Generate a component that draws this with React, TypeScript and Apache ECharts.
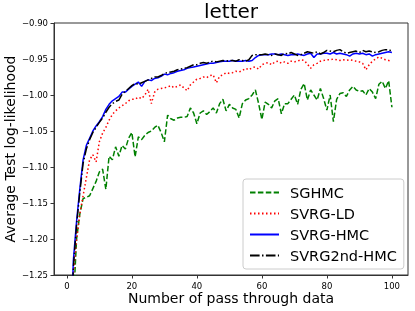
import React, { useEffect, useRef } from "react";
import * as echarts from "echarts";

const passes: number[] = Array.from({ length: 100 }, (_, i) => i + 1);

const sghmc: number[] = [
  -1.40, -1.29, -1.20, -1.165, -1.144, -1.142, -1.140, -1.130, -1.120, -1.107,
  -1.103, -1.131, -1.085, -1.090, -1.072, -1.085, -1.070, -1.075, -1.060, -1.052,
  -1.086, -1.058, -1.062, -1.056, -1.052, -1.050, -1.045, -1.042, -1.052, -1.065,
  -1.028, -1.033, -1.035, -1.032, -1.031, -1.031, -1.030, -1.018, -1.025, -1.040,
  -1.025, -1.022, -1.027, -1.023, -1.018, -1.025, -1.012, -1.006, -1.022, -1.013,
  -1.018, -1.020, -1.032, -1.012, -1.007, -1.005, -1.000, -0.993, -1.012, -1.034,
  -1.010, -1.013, -1.018, -1.008, -1.005, -1.026, -1.012, -1.012, -1.006, -1.000,
  -1.013, -0.992, -0.984, -1.007, -0.993, -1.000, -1.007, -0.991, -1.005, -1.021,
  -1.000, -1.037, -1.006, -0.998, -0.997, -1.002, -0.993, -0.988, -0.993, -0.995,
  -0.994, -1.000, -0.991, -0.996, -1.005, -0.985, -0.981, -0.991, -0.980, -1.017,
];

const svrgLd: number[] = [
  -1.33, -1.25, -1.200, -1.165, -1.140, -1.115, -1.090, -1.083, -1.093, -1.065,
  -1.053, -1.045, -1.035, -1.027, -1.022, -1.018, -1.015, -1.012, -1.008, -1.006,
  -1.006, -1.003, -1.005, -1.000, -0.992, -1.012, -0.996, -0.992, -0.991, -0.990,
  -0.989, -0.987, -0.990, -0.988, -0.986, -0.990, -0.994, -0.986, -0.982, -0.978,
  -0.977, -0.975, -0.976, -0.973, -0.972, -0.983, -0.974, -0.972, -0.969, -0.970,
  -0.969, -0.967, -0.968, -0.966, -0.963, -0.965, -0.962, -0.961, -0.964, -0.958,
  -0.956, -0.955, -0.958, -0.954, -0.953, -0.956, -0.954, -0.956, -0.953, -0.954,
  -0.953, -0.951, -0.952, -0.957, -0.963, -0.958, -0.956, -0.953, -0.952, -0.951,
  -0.951, -0.950, -0.951, -0.952, -0.951, -0.952, -0.951, -0.952, -0.953, -0.954,
  -0.956, -0.965, -0.958, -0.953, -0.950, -0.947, -0.949, -0.951, -0.952, -0.953,
];

const svrgHmc: number[] = [
  -1.36, -1.23, -1.175, -1.130, -1.090, -1.070, -1.060, -1.050, -1.043, -1.037,
  -1.030, -1.020, -1.013, -1.008, -1.005, -1.002, -0.996, -0.996, -0.992, -0.988,
  -0.985, -0.982, -0.988, -0.981, -0.979, -0.980, -0.977, -0.976, -0.974, -0.971,
  -0.972, -0.970, -0.969, -0.967, -0.966, -0.965, -0.963, -0.962, -0.961, -0.960,
  -0.959, -0.958, -0.957, -0.956, -0.956, -0.955, -0.954, -0.953, -0.953, -0.953,
  -0.952, -0.953, -0.953, -0.953, -0.952, -0.953, -0.952, -0.948, -0.945, -0.944,
  -0.944, -0.944, -0.943, -0.943, -0.944, -0.943, -0.944, -0.945, -0.944, -0.944,
  -0.943, -0.944, -0.945, -0.943, -0.942, -0.948, -0.943, -0.943, -0.942, -0.942,
  -0.943, -0.941, -0.943, -0.942, -0.943, -0.944, -0.946, -0.943, -0.942, -0.943,
  -0.942, -0.944, -0.943, -0.946, -0.944, -0.943, -0.942, -0.941, -0.940, -0.941,
];

const svrg2ndHmc: number[] = [
  -1.37, -1.24, -1.180, -1.135, -1.095, -1.075, -1.062, -1.052, -1.045, -1.038,
  -1.032, -1.024, -1.017, -1.012, -1.009, -1.007, -0.999, -0.995, -0.991, -0.987,
  -0.984, -0.985, -0.983, -0.981, -0.979, -0.977, -0.975, -0.975, -0.973, -0.970,
  -0.969, -0.968, -0.967, -0.965, -0.964, -0.963, -0.962, -0.960, -0.958, -0.958,
  -0.956, -0.955, -0.956, -0.954, -0.953, -0.954, -0.953, -0.952, -0.953, -0.952,
  -0.952, -0.953, -0.951, -0.952, -0.953, -0.951, -0.945, -0.944, -0.944, -0.944,
  -0.943, -0.944, -0.945, -0.943, -0.944, -0.945, -0.942, -0.943, -0.941, -0.943,
  -0.945, -0.944, -0.942, -0.940, -0.941, -0.942, -0.940, -0.943, -0.941, -0.938,
  -0.939, -0.940, -0.938, -0.937, -0.940, -0.942, -0.941, -0.940, -0.939, -0.941,
  -0.938, -0.940, -0.939, -0.940, -0.941, -0.940, -0.938, -0.937, -0.937, -0.939,
];

const seriesNames: string[] = ["SGHMC", "SVRG-LD", "SVRG-HMC", "SVRG2nd-HMC"];
const xTicks: number[] = [0, 20, 40, 60, 80, 100];

const FONT = "DejaVu Sans";

export default function App() {
  const ref = useRef<HTMLDivElement>(null);
  useEffect(() => {
    if (!ref.current) return;
    const chart = echarts.init(ref.current, null, { renderer: "svg" });
    const pair = (arr: number[]) => passes.map((p, i) => [p, arr[i]]);
    const styles = [
      { color: "#008000", type: [5.5, 2.4] as any },
      { color: "#ff0000", type: [1.5, 2.5] as any },
      { color: "#0000ff", type: "solid" as any },
      { color: "#000000", type: [9.6, 2.4, 1.5, 2.4] as any },
    ];
    const datas = [sghmc, svrgLd, svrgHmc, svrg2ndHmc];
    chart.setOption({
      animation: false,
      grid: {
        left: 54,
        right: 7,
        top: 23,
        bottom: 36,
        show: true,
        borderColor: "#333",
        borderWidth: 1,
        backgroundColor: "transparent",
      },
      graphic: [
        {
          type: "text",
          x: 231,
          y: 11,
          style: {
            text: "letter",
            fontFamily: FONT,
            fontSize: 20,
            fill: "#000",
            textAlign: "center",
            textVerticalAlign: "middle",
          },
        },
        {
          type: "text",
          x: 231,
          y: 298,
          style: {
            text: "Number of pass through data",
            fontFamily: FONT,
            fontSize: 14,
            fill: "#000",
            textAlign: "center",
            textVerticalAlign: "middle",
          },
        },
        {
          type: "text",
          x: 10,
          y: 149,
          rotation: Math.PI / 2,
          style: {
            text: "Average Test log-likelihood",
            fontFamily: FONT,
            fontSize: 14,
            fill: "#000",
            textAlign: "center",
            textVerticalAlign: "middle",
          },
        },
      ],
      legend: {
        orient: "vertical",
        left: 243,
        top: 179,
        padding: [6, 7, 6, 6],
        itemWidth: 29,
        itemHeight: 10,
        itemGap: 6,
        backgroundColor: "rgba(255,255,255,0.8)",
        borderColor: "#cccccc",
        borderWidth: 1,
        borderRadius: 3,
        data: seriesNames,
        itemStyle: { opacity: 0 },
        textStyle: {
          fontFamily: FONT,
          fontSize: 14.5,
          color: "#000",
          padding: [0, 0, 0, 6],
        },
      },
      xAxis: {
        type: "value",
        min: -3.95,
        max: 104.95,
        splitLine: { show: false },
        axisLine: { show: true, onZero: false, lineStyle: { color: "#333", width: 1 } },
        axisTick: {
          show: true,
          length: 3.5,
          customValues: xTicks,
          lineStyle: { color: "#333" },
        },
        axisLabel: {
          customValues: xTicks,
          margin: 6,
          fontFamily: FONT,
          fontSize: 8.5,
          color: "#000",
          formatter: (v: number) => String(v),
        },
      },
      yAxis: {
        type: "value",
        min: -1.25,
        max: -0.9,
        interval: 0.05,
        splitLine: { show: false },
        axisLine: { show: true, onZero: false, lineStyle: { color: "#333", width: 1 } },
        axisTick: { show: true, length: 3.5, lineStyle: { color: "#333" } },
        axisLabel: {
          margin: 6,
          fontFamily: FONT,
          fontSize: 8.5,
          color: "#000",
          formatter: (v: number) => v.toFixed(2).replace("-", "\u2212"),
        },
      },
      series: seriesNames.map((name, i) => ({
        name,
        type: "line",
        data: pair(datas[i]),
        symbol: "none",
        showSymbol: false,
        clip: true,
        color: styles[i].color,
        lineStyle: { color: styles[i].color, width: 1.5, type: styles[i].type },
        z: 2 + i,
      })),
    });
    return () => chart.dispose();
  }, []);
  return (
    <div
      ref={ref}
      style={{ position: "fixed", left: 0, top: 0, width: 415, height: 311 }}
    />
  );
}
